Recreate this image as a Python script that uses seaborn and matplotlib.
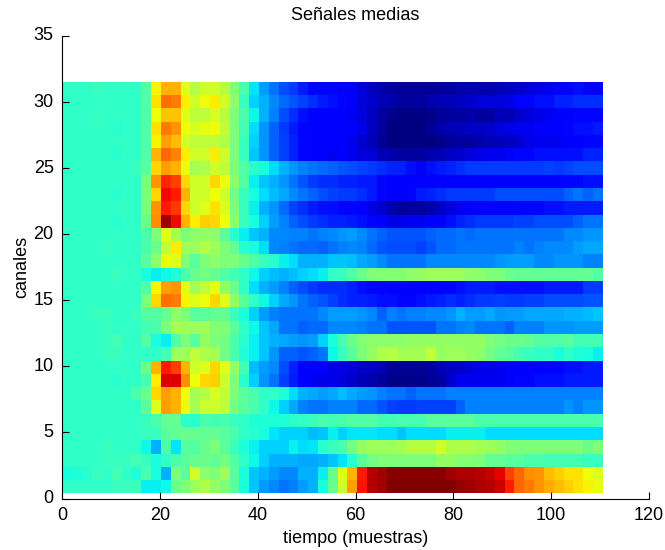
import matplotlib
matplotlib.use("Agg")
import matplotlib.pyplot as plt
import seaborn as sns
import numpy as np

# mean signal per channel, one value every 2 samples (0-100 on the colour scale)
canal_31 = [41,41,41,42,41, 41,41,41,45,65, 72,72,62,57,60, 60,57,51,44,35, 28,24,20,18,15, 13,13,13,12,11, 8,6,4,3,2, 2,2,2,3,3, 4,4,4,4,5, 6,7,8,9,10, 12,13,14,13,12]
canal_30 = [41,41,41,41,41, 41,41,41,45,67, 79,78,66,60,64, 66,60,52,42,33, 30,26,23,21,19, 17,15,14,13,12, 8,7,5,4,3, 3,3,4,5,5, 6,7,8,8,8, 9,11,13,14,14, 16,16,17,17,17]
canal_29 = [41,41,41,42,41, 41,41,41,45,64, 70,70,62,58,58, 61,57,50,44,37, 30,25,20,17,14, 12,12,12,12,10, 8,6,3,1,0, 0,0,1,2,3, 3,4,3,3,5, 5,7,8,9,10, 11,12,13,13,13]
canal_28 = [41,41,41,41,41, 40,41,41,45,67, 78,75,64,61,63, 64,58,50,43,34, 27,22,18,15,13, 12,11,11,11,11, 9,6,3,0,0, 0,0,2,4,5, 5,6,6,7,8, 9,10,10,11,11, 12,13,14,14,15]
canal_27 = [41,41,41,41,41, 41,41,41,45,65, 74,71,60,58,58, 58,56,50,42,33, 27,22,19,16,13, 11,11,11,11,10, 7,5,2,0,0, 0,0,0,1,2, 3,3,4,5,5, 6,7,9,10,10, 10,12,12,13,13]
canal_26 = [41,41,41,41,41, 40,41,41,45,72, 80,77,66,60,60, 66,60,50,42,32, 27,22,19,16,13, 12,12,10,11,10, 8,8,5,4,3, 3,3,4,5,6, 7,8,9,10,10, 11,13,13,14,14, 14,14,14,16,16]
canal_25 = [41,41,41,41,41, 41,41,42,46,68, 74,72,63,55,56, 60,58,50,45,40, 38,34,30,27,25, 24,23,22,21,20, 19,18,17,16,16, 14,12,14,15,16, 17,18,18,18,18, 18,18,18,18,19, 18,19,20,20,20]
canal_24 = [41,41,41,41,41, 41,41,41,50,75, 87,84,68,60,60, 68,64,52,45,36, 32,30,27,24,21, 18,17,17,16,16, 15,15,13,12,11, 11,11,12,12,12, 12,12,12,12,12, 12,12,12,12,12, 12,13,13,14,14]
canal_23 = [41,41,41,41,41, 40,41,41,50,68, 90,88,72,60,60, 64,60,49,42,38, 34,31,29,26,24, 22,20,19,18,18, 17,15,13,11,11, 13,15,16,17,18, 18,18,18,18,20, 20,20,20,20,20, 20,22,24,22,24]
canal_22 = [41,41,41,41,41, 41,41,41,50,75, 88,85,68,60,62, 67,62,50,42,36, 30,27,23,19,17, 15,14,14,13,13, 11,9,7,4,3, 3,3,4,6,8, 10,11,11,11,11, 11,13,13,13,14, 14,15,15,15,15]
canal_21 = [41,41,41,41,41, 40,41,41,48,76, 97,90,72,66,69, 68,64,52,42,38, 33,28,25,22,20, 18,17,16,16,15, 14,13,11,9,9, 10,10,11,12,14, 16,17,18,18,18, 18,19,19,20,20, 20,20,22,24,24]
canal_20 = [41,41,41,41,41, 41,41,41,44,50, 62,55,50,52,53, 52,46,40,36,32, 30,26,26,25,25, 24,25,26,27,28, 26,24,22,21,21, 21,21,22,23,23, 24,23,24,24,24, 24,24,24,24,24, 24,26,26,27,27]
canal_19 = [41,41,41,41,42, 41,41,41,44,48, 58,66,54,54,56, 54,50,47,40,38, 34,26,25,24,23, 23,22,24,25,26, 25,23,21,20,20, 20,19,21,23,23, 24,24,24,24,24, 24,25,24,25,26, 26,26,28,29,29]
canal_18 = [41,41,41,41,41, 41,41,41,46,52, 63,62,50,46,50, 52,50,50,48,45, 42,40,36,34,30, 30,30,32,32,31, 29,28,26,24,24, 24,24,26,26,26, 26,26,26,26,27, 28,28,28,26,26, 27,27,27,25,25]
canal_17 = [41,41,41,41,41, 42,41,41,38,36, 37,39,44,48,49, 47,45,43,41,37, 33,31,30,31,33, 34,36,41,42,45, 48,50,51,51,51, 52,53,54,54,54, 54,52,52,50,50, 48,47,47,47,47, 47,47,47,47,45]
canal_16 = [41,41,41,41,41, 41,41,41,45,65, 74,75,62,55,58, 63,53,48,41,34, 30,28,25,22,20, 18,17,17,17,16, 14,13,13,12,11, 11,11,12,12,13, 14,15,15,15,14, 14,14,14,14,15, 15,15,15,18,18]
canal_15 = [41,41,41,41,41, 41,41,41,50,68, 79,78,65,62,64, 68,62,53,46,41, 37,33,29,27,24, 22,21,19,17,16, 16,15,14,14,13, 13,14,15,16,17, 16,17,18,18,19, 18,18,19,19,20, 20,20,20,21,21]
canal_14 = [41,41,41,42,42, 41,41,42,45,45, 47,52,50,46,46, 47,47,42,38,33, 28,25,24,24,24, 24,26,28,28,28, 27,26,22,25,24, 25,25,26,26,27, 30,28,28,29,27, 28,28,29,29,29, 29,30,30,31,32]
canal_13 = [41,41,41,41,42, 41,41,41,43,44, 50,55,54,54,54, 51,50,46,41,37, 32,29,24,24,22, 23,23,26,26,26, 25,24,24,21,21, 21,21,21,24,24, 25,26,24,24,24, 22,25,25,25,27, 27,27,28,28,28]
canal_12 = [41,41,41,41,42, 43,41,41,45,38, 36,45,50,46,53, 50,49,44,40,36, 32,30,29,28,27, 28,33,38,44,48, 51,52,52,52,52, 53,53,53,53,53, 53,53,53,50,49, 48,48,47,45,45, 45,46,43,43,43]
canal_11 = [41,41,41,41,42, 42,41,41,41,41, 43,54,54,58,56, 55,49,44,39,36, 32,27,22,22,21, 22,24,37,42,46, 50,53,56,57,55, 55,55,58,53,54, 54,53,52,49,47, 46,43,42,41,41, 38,41,39,38,36]
canal_10 = [41,41,41,41,41, 41,41,41,48,72, 88,84,72,60,62, 68,62,53,43,31, 28,26,20,16,12, 12,11,9,9,8, 7,6,5,2,2, 2,2,3,5,6, 7,8,9,9,10, 11,12,12,12,13, 13,14,14,15,15]
canal_09 = [41,41,41,41,41, 40,41,41,44,66, 92,92,76,64,68, 69,60,50,40,33, 27,24,19,15,11, 10,9,9,8,7, 5,4,3,1,1, 1,1,2,3,7, 10,10,10,10,10, 11,13,13,14,14, 14,15,15,15,15]
canal_08 = [41,41,41,41,41, 41,41,44,48,68, 74,72,64,55,57, 61,58,50,46,44, 41,41,39,34,30, 29,28,29,31,29, 28,27,25,24,24, 22,24,24,24,25, 25,25,25,25,25, 25,25,25,25,25, 25,25,25,25,25]
canal_07 = [41,41,41,41,41, 41,41,41,46,62, 74,72,63,55,59, 60,58,49,46,44, 41,37,33,29,25, 24,24,25,25,25, 23,23,21,19,18, 18,19,19,19,19, 22,25,25,25,25, 25,25,25,25,25, 25,27,25,27,27]
canal_06 = [41,41,41,41,41, 41,41,41,42,44, 47,47,41,40,44, 43,44,42,41,39, 39,39,39,40,41, 42,44,43,44,45, 45,45,43,43,44, 44,44,46,46,46, 46,46,44,44,44, 44,44,44,44,44, 44,44,44,44,44]
canal_05 = [41,41,41,41,41, 41,41,41,42,42, 46,47,48,48,47, 47,46,44,41,40, 38,35,33,33,33, 31,32,36,33,35, 35,35,34,34,32, 34,34,34,34,36, 36,36,36,34,34, 34,34,34,34,34, 34,34,34,34,34]
canal_04 = [41,41,41,41,42, 41,41,41,37,30, 44,35,46,45,48, 50,46,42,39,36, 33,33,33,36,34, 35,40,42,44,49, 53,54,54,54,55, 57,57,57,60,56, 56,56,55,54,53, 51,50,50,50,50, 50,50,50,48,50]
canal_03 = [41,41,41,41,42, 42,42,43,42,38, 41,44,46,48,48, 47,49,45,41,37, 33,30,30,30,29, 29,30,32,35,40, 46,49,50,50,50, 50,50,50,53,53, 51,51,50,47,47, 46,46,44,44,43, 43,43,43,42,42]
canal_02 = [38,39,40,42,41, 43,41,39,44,38, 30,50,46,60,52, 50,54,46,38,32, 30,28,26,26,30, 30,36,48,62,72, 88,95,97,99,99, 99,99,99,99,97, 96,96,95,94,91, 84,80,76,75,71, 69,67,67,64,62]
canal_01 = [41,41,41,41,41, 42,42,42,36,36, 37,48,50,54,56, 53,50,46,38,32, 28,26,24,25,28, 30,38,48,60,74, 89,95,97,100,100, 100,100,100,100,100, 98,97,96,95,93, 88,80,78,75,73, 71,69,67,65,63]

x_ticks = [0, 20, 40, 60, 80, 100, 120]
y_ticks = [0, 5, 10, 15, 20, 25, 30, 35]

plt.rcParams['font.family'] = ['Liberation Sans', 'DejaVu Sans']
plt.rcParams['font.size'] = 13

# bottom row of the matrix is channel 1
senales = np.array([canal_01, canal_02, canal_03, canal_04, canal_05, canal_06, canal_07, canal_08,
                    canal_09, canal_10, canal_11, canal_12, canal_13, canal_14, canal_15, canal_16,
                    canal_17, canal_18, canal_19, canal_20, canal_21, canal_22, canal_23, canal_24,
                    canal_25, canal_26, canal_27, canal_28, canal_29, canal_30, canal_31])

fig = plt.figure(figsize=(6.65, 5.5), dpi=100)
ax = fig.add_axes([62 / 665, 1 - 498.5 / 550, 587 / 665, 462.5 / 550])
sns.heatmap(senales, ax=ax, cmap="jet", vmin=0, vmax=100, cbar=False)

# cells are 2 samples wide; limits in cell units, ticks evenly spread between them
xlim = (-0.07, 59.7)
ylim = (-0.38, 34.44)
ax.set_xlim(*xlim)
ax.set_ylim(*ylim)
ax.set_xticks(np.linspace(*xlim, len(x_ticks)))
ax.set_xticklabels(x_ticks, rotation=0)
ax.set_yticks(np.linspace(*ylim, len(y_ticks)))
ax.set_yticklabels(y_ticks, rotation=0)
ax.tick_params(direction='in', length=5, width=0.8, pad=6, colors='black')

for side in ['top', 'right']:
    ax.spines[side].set_visible(False)
for side in ['left', 'bottom']:
    ax.spines[side].set_visible(True)
    ax.spines[side].set_linewidth(0.8)

ax.set_xlabel('tiempo (muestras)', labelpad=4.5)
ax.set_ylabel('canales', labelpad=2.5)
ax.set_title('Señales medias', fontsize=13, pad=11.5)

fig.savefig('out.png', dpi=100)
